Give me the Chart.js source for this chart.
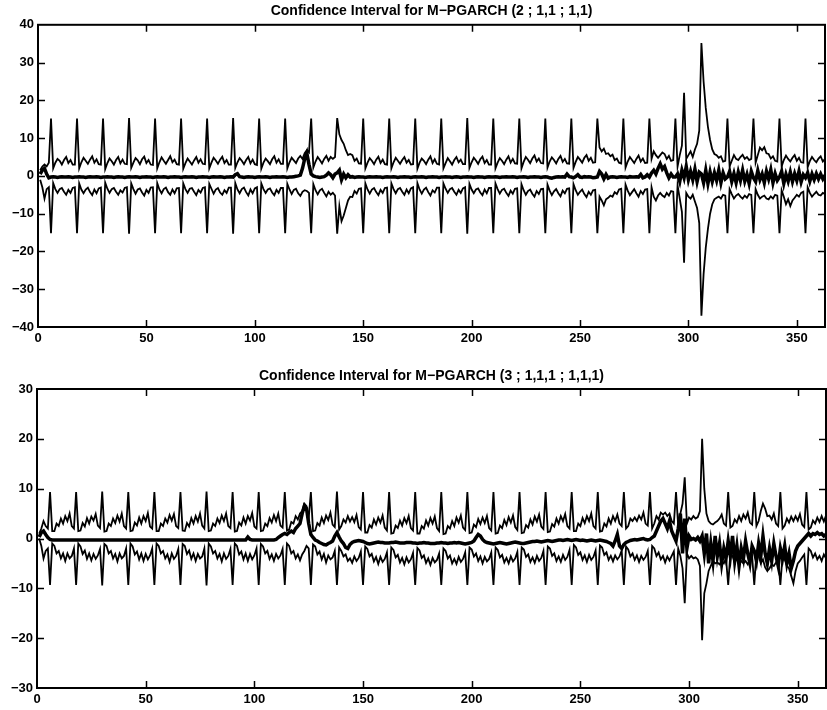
<!DOCTYPE html>
<html>
<head>
<meta charset="utf-8">
<script src="https://cdn.jsdelivr.net/npm/chart.js@4.4.1/dist/chart.umd.min.js"></script>
<style>
  html, body { margin: 0; padding: 0; background: #fff; }
  #wrap { position: relative; width: 827px; height: 710px; }
  canvas { position: absolute; left: 0; }
  #top { top: 0; }
  #bottom { top: 350px; }
</style>
</head>
<body>
<div id="wrap">
  <canvas id="top" width="827" height="350"></canvas>
  <canvas id="bottom" width="827" height="360"></canvas>
</div>
<script>
// one row = 12 observations, the periodic spike sits at the 6th of each row

// --- M-PGARCH (2 ; 1,1 ; 1,1) ---
const upper1 = [
  1.5, 2.5, 3, 2.5, 3.5, 15.2, 2, 3.5, 4.5, 4, 3, 4.2,
  5, 3.4, 4.2, 3, 3, 15.2, 2, 3.6, 4.8, 4, 3.2, 4.3,
  5.2, 3.5, 4.4, 3.1, 3, 15.2, 1.8, 3.4, 4.6, 3.9, 3, 4.2,
  5, 3.3, 4.3, 3.2, 3.1, 15.3, 2.1, 3.5, 4.7, 4.1, 3.1, 4.4,
  5.1, 3.4, 4.2, 3, 2.9, 15.2, 2, 3.6, 4.9, 4, 3.2, 4.2,
  5.2, 3.6, 4.3, 3.1, 3, 15.2, 1.9, 3.4, 4.6, 3.8, 3, 4.1,
  5, 3.5, 4.4, 3.2, 3.1, 15.2, 2, 3.5, 4.8, 4.1, 3.2, 4.3,
  5.1, 3.4, 4.2, 3, 3, 15.3, 2.1, 3.6, 4.7, 4, 3.1, 4.2,
  5, 3.3, 4.3, 3.1, 2.9, 15.2, 1.9, 3.5, 4.6, 3.9, 3.1, 4.4,
  5.2, 3.5, 4.4, 3.2, 3.2, 15.2, 2, 3.6, 4.8, 4.1, 3.4, 4.6,
  5.3, 4.5, 6, 6.8, 6.2, 15.2, 2.2, 3.8, 5, 4.2, 3.3, 4.5,
  5.3, 4, 5, 4.5, 5, 15.3, 11, 9.5, 8.5, 6.8, 5.5, 5.8,
  5.5, 4, 4.6, 3.3, 3.2, 15.2, 2, 3.5, 4.7, 4, 3.1, 4.3,
  5.1, 3.4, 4.3, 3.1, 3, 15.2, 2, 3.6, 4.8, 4, 3.2, 4.2,
  5, 3.5, 4.2, 3, 3.1, 15.2, 1.9, 3.5, 4.6, 4, 3.1, 4.3,
  5.2, 3.4, 4.4, 3.2, 3, 15.2, 2, 3.4, 4.7, 3.9, 3, 4.2,
  5, 3.6, 4.3, 3.1, 3.1, 15.3, 2.1, 3.6, 4.8, 4.1, 3.2, 4.4,
  5.1, 3.4, 4.2, 3, 3, 15.2, 2, 3.5, 4.7, 4, 3.1, 4.3,
  5.2, 3.5, 4.5, 3.3, 3.2, 15.2, 2, 3.7, 5, 4.3, 3.4, 4.6,
  5.4, 3.8, 4.6, 3.4, 3.3, 15.2, 2.2, 3.8, 4.9, 4.2, 3.3, 4.5,
  5.3, 3.7, 4.5, 3.3, 3.2, 15.2, 2.1, 3.7, 5, 4.3, 3.5, 4.8,
  5.5, 4, 4.8, 3.5, 3.6, 15.2, 7.5, 6.5, 7.2, 5.8, 6, 5.2,
  5.6, 4.2, 4.6, 3.5, 3.3, 15.2, 2.2, 3.8, 5, 4.2, 3.4, 4.5,
  5.4, 3.8, 4.6, 3.4, 3.5, 15.2, 4.5, 6.5, 5.5, 4.8, 5.5, 6.2,
  5.8, 4.5, 5.3, 4, 4.2, 15.2, 2.5, 5.5, 8, 22, 4.5, 5.5,
  6.5, 5, 7, 8.5, 12, 35.2, 25, 18, 13, 9.5, 7, 5.8,
  5.5, 4.8, 5.2, 3.8, 4, 15.2, 2.5, 4, 5.5, 4.5, 4.2, 5,
  5.6, 4.5, 5, 4.2, 4.5, 15.2, 3.5, 5.5, 7.5, 6.8, 7.6, 6,
  5.8, 4.6, 5.2, 4, 3.8, 15.2, 2.5, 4.2, 5.4, 4.5, 3.8, 4.8,
  5.5, 4, 4.8, 3.6, 3.5, 15.2, 2.3, 3.9, 5, 4.2, 3.6, 4.6,
  5.2, 3.8, 4.5
];
const lower1 = [
  -1, -3, -6, -3.5, -3, -15.2, -1.9, -3.5, -4.5, -3.5, -3.2, -4.2,
  -5, -3.7, -4.5, -3.2, -3, -15.2, -2, -3.6, -4.6, -3.6, -3.1, -4.3,
  -5.1, -3.6, -4.6, -3.3, -3.1, -15.2, -1.8, -3.4, -4.5, -3.5, -3.2, -4.2,
  -5, -3.8, -4.4, -3.2, -3, -15.3, -2, -3.5, -4.7, -3.6, -3.3, -4.4,
  -5.2, -3.7, -4.5, -3.1, -3, -15.2, -1.9, -3.6, -4.6, -3.5, -3.1, -4.3,
  -5, -3.6, -4.6, -3.3, -3.2, -15.2, -2, -3.5, -4.5, -3.4, -3.2, -4.2,
  -5.1, -3.7, -4.4, -3.2, -3, -15.2, -2.1, -3.4, -4.7, -3.6, -3.2, -4.4,
  -5, -3.8, -4.5, -3.1, -3.1, -15.3, -1.9, -3.6, -4.6, -3.5, -3.1, -4.3,
  -5.2, -3.6, -4.6, -3.3, -3, -15.2, -2, -3.5, -4.5, -3.6, -3.3, -4.4,
  -5.1, -3.7, -4.5, -3.2, -3.2, -15.2, -2.1, -3.6, -4.8, -3.7, -3.4, -4.6,
  -5.3, -4.2, -3.8, -4, -4.5, -15.2, -2.2, -3.8, -4.9, -3.8, -3.4, -4.5,
  -5.4, -4.2, -5, -4.5, -5.2, -15.3, -8, -12, -10.5, -8.5, -6.5, -5.5,
  -5.6, -4, -4.7, -3.4, -3.3, -15.2, -2, -3.6, -4.7, -3.6, -3.2, -4.3,
  -5.1, -3.7, -4.5, -3.2, -3.1, -15.2, -2, -3.5, -4.6, -3.5, -3.2, -4.2,
  -5, -3.6, -4.6, -3.3, -3, -15.2, -1.9, -3.6, -4.7, -3.6, -3.1, -4.3,
  -5.2, -3.8, -4.4, -3.1, -3.1, -15.2, -2, -3.4, -4.5, -3.5, -3.2, -4.2,
  -5, -3.7, -4.5, -3.3, -3, -15.3, -2.1, -3.6, -4.6, -3.6, -3.3, -4.4,
  -5.1, -3.6, -4.6, -3.2, -3.2, -15.2, -2, -3.5, -4.7, -3.7, -3.4, -4.5,
  -5.3, -3.9, -4.7, -3.4, -3.3, -15.2, -2.2, -3.8, -5, -4, -3.6, -4.7,
  -5.5, -4, -4.8, -3.5, -3.4, -15.2, -2.3, -3.9, -5.1, -4.1, -3.5, -4.6,
  -5.4, -3.9, -4.6, -3.4, -3.3, -15.2, -2.2, -3.8, -5, -4.2, -3.6, -4.8,
  -5.6, -4.2, -5, -3.8, -3.7, -15.2, -5.5, -6.5, -7.8, -6.2, -5.8, -5.2,
  -5.5, -4.3, -4.8, -3.6, -3.4, -15.2, -2.3, -3.9, -5.1, -4.3, -3.5, -4.6,
  -5.5, -4, -4.8, -3.6, -3.5, -15.2, -3, -5.5, -6.5, -5.2, -4.5, -5.2,
  -5.6, -4.5, -5.2, -4, -4.2, -15.2, -2.5, -6, -9.5, -23, -4.5, -5.5,
  -6, -5, -6.8, -8.5, -12.5, -37, -26, -19, -14, -10, -7.5, -6.2,
  -5.8, -5.5, -6, -5, -5.2, -15.2, -3.5, -4.8, -6, -5.2, -4.8, -5.5,
  -6, -5.2, -5.8, -4.8, -5, -15.2, -3.5, -5, -6, -5.5, -5.2, -6,
  -6.2, -5.4, -6, -5, -5.2, -15.2, -3.8, -5.5, -7.5, -6.2, -8, -6.5,
  -5.8, -5, -5.5, -4.5, -4.2, -15.2, -3, -4.5, -5.5, -4.8, -4.2, -5,
  -5.2, -4.5, -4.8
];
const mean1 = [
  0.5, 1.5, 2, 0.5, -0.5, -0.3, -0.2, -0.3, -0.4, -0.3, -0.2, -0.3,
  -0.3, -0.2, -0.3, -0.4, -0.3, -0.3, -0.2, -0.3, -0.3, -0.4, -0.3, -0.2,
  -0.3, -0.3, -0.2, -0.3, -0.4, -0.3, -0.3, -0.2, -0.3, -0.3, -0.4, -0.3,
  -0.2, -0.3, -0.3, -0.4, -0.3, -0.2, -0.3, -0.3, -0.2, -0.3, -0.4, -0.3,
  -0.3, -0.2, -0.3, -0.3, -0.4, -0.3, -0.2, -0.3, -0.3, -0.2, -0.3, -0.4,
  -0.3, -0.3, -0.2, -0.3, -0.3, -0.4, -0.3, -0.2, -0.3, -0.3, -0.2, -0.3,
  -0.4, -0.3, -0.3, -0.2, -0.3, -0.3, -0.4, -0.3, -0.2, -0.3, -0.3, -0.2,
  -0.3, -0.4, -0.3, -0.3, -0.2, -0.3, 0.3, 0.6, -0.2, -0.3, -0.4, -0.3,
  -0.2, -0.3, -0.3, -0.4, -0.3, -0.2, -0.3, -0.3, -0.2, -0.3, -0.4, -0.3,
  -0.3, -0.2, -0.3, -0.3, -0.2, -0.3, -0.4, -0.3, -0.3, -0.2, -0.1, 0,
  0.2, 2, 4.5, 6, 3, 0.5, 0, -0.2, -0.3, -0.4, -0.3, -0.2,
  0.2, 0.8, 0.3, -0.5, 0.5, 0.8, 1.5, -1, 0.5, -0.5, 0.3, -0.3,
  -0.2, -0.4, -0.3, -0.2, -0.3, -0.3, -0.4, -0.3, -0.2, -0.3, -0.3, -0.2,
  -0.3, -0.3, -0.4, -0.3, -0.2, -0.3, -0.3, -0.2, -0.3, -0.4, -0.3, -0.3,
  -0.2, -0.3, -0.3, -0.4, -0.3, -0.2, -0.3, -0.3, -0.2, -0.3, -0.4, -0.3,
  -0.3, -0.2, -0.3, -0.3, -0.4, -0.3, -0.3, -0.2, -0.3, -0.3, -0.4, -0.3,
  -0.2, -0.3, -0.4, -0.3, -0.3, -0.2, -0.3, -0.3, -0.4, -0.3, -0.2, -0.3,
  -0.3, -0.4, -0.3, -0.2, -0.3, -0.3, -0.2, -0.3, -0.4, -0.3, -0.3, -0.2,
  -0.3, -0.3, -0.2, -0.3, -0.4, -0.3, -0.3, -0.2, -0.3, -0.4, -0.3, -0.3,
  -0.2, -0.3, -0.3, -0.4, -0.3, -0.2, -0.3, -0.5, -0.6, -0.4, -0.3, -0.2,
  -0.3, -0.2, -0.3, 0.5, -0.2, -0.3, -0.5, -0.2, 0.3, -0.3, -0.4, -0.2,
  -0.3, -0.2, -0.3, -0.5, -0.4, -0.3, 1.2, 0.5, -0.8, 0.4, -0.6, -0.3,
  -0.2, -0.3, -0.4, -0.3, -0.2, -0.3, -0.3, -0.4, -0.2, -0.3, -0.3, -0.2,
  -0.3, 0.4, -0.5, -0.3, 0.3, -0.3, 0.8, 1.5, 0.5, 2, 3.2, 1.8,
  2.5, 0.8, -0.5, 0.5, -0.3, -0.3, 0.5, -1.5, 1.5, -0.5, 2.5, -1,
  1.2, -1, 1.8, -1.5, 1, 0.5, -1.8, 1.5, -2, 1, -1.5, 0.8,
  -1.2, 1.5, -1.8, 0.8, -0.8, -0.3, 1.2, -1.5, 0.6, -1.8, 1, -1.2,
  1.5, -1.4, 0.4, -2, 1.2, -0.5, -1.5, 1.4, -1, 0.5, -1.8, 1.2,
  -0.8, 1.6, -1.8, 0.6, -1.2, -0.3, 1.2, -2, 0.4, -1.4, 1, -1.5,
  0.6, -1.2, 1.2, -1.6, 0.3, -0.5, 0.8, -1.4, 0.5, -1, 0.6, -0.8,
  0.5, -0.8, 0.2
];

// --- M-PGARCH (3 ; 1,1,1 ; 1,1,1) ---
const upper2 = [
  1, 2, 3.5, 2.5, 2, 9.3, 1.5, 1.5, 3, 2.5, 4, 3,
  4.5, 3.5, 5, 2.5, 2, 9.3, 1.5, 1.6, 3.1, 2.4, 4.1, 3,
  4.4, 3.6, 4.9, 2.6, 2.1, 9.4, 1.4, 1.5, 3, 2.5, 4, 3.1,
  4.6, 3.4, 5, 2.5, 2, 9.3, 1.5, 1.6, 3.2, 2.6, 4.2, 3,
  4.5, 3.5, 5.1, 2.4, 2, 9.3, 1.5, 1.5, 3, 2.5, 4, 3.2,
  4.7, 3.6, 4.9, 2.5, 2.1, 9.3, 1.6, 1.5, 3.1, 2.4, 4.1, 3,
  4.5, 3.4, 5, 2.6, 2, 9.4, 1.5, 1.6, 3, 2.5, 4, 3.1,
  4.6, 3.5, 5, 2.5, 2.1, 9.3, 1.4, 1.5, 3.2, 2.6, 4.2, 3,
  4.5, 3.6, 5.1, 2.4, 2, 9.3, 1.5, 1.6, 3, 2.5, 4.1, 3.2,
  4.7, 3.5, 5, 2.6, 2.2, 9.3, 1.6, 1.8, 3.3, 3, 4.5, 3.8,
  5, 5.5, 7, 6.5, 4, 9.3, 1.5, 1.6, 3.1, 2.6, 4.2, 3.1,
  4.6, 3.7, 5.2, 2.8, 2.3, 9.4, 1.8, 2.5, 3.8, 3.2, 4.5, 3.4,
  4.3, 3.3, 4.7, 2.3, 1.8, 9.3, 1.2, 1.2, 2.7, 2.2, 3.8, 2.8,
  4.2, 3.2, 4.6, 2.2, 1.6, 9.3, 1, 1.1, 2.6, 2.1, 3.6, 2.6,
  4.1, 3.1, 4.5, 2.1, 1.6, 9.3, 1, 1, 2.5, 2, 3.6, 2.6,
  4.1, 3, 4.4, 2.1, 1.5, 9.3, 0.9, 1, 2.5, 2, 3.5, 2.5,
  4.2, 3.2, 4.6, 2.2, 1.7, 9.3, 1.1, 1.2, 2.8, 2.3, 3.9, 2.9,
  4.2, 3.1, 4.5, 2.1, 1.6, 9.3, 1, 1.1, 2.6, 2.1, 3.7, 2.7,
  4.3, 3.2, 4.6, 2.3, 1.7, 9.3, 1.1, 1.2, 2.7, 2.2, 3.8, 2.8,
  4.4, 3.4, 4.8, 2.4, 1.9, 9.3, 1.3, 1.4, 2.9, 2.4, 4, 3,
  4.5, 3.5, 4.9, 2.5, 2, 9.3, 1.5, 1.5, 3, 2.5, 4.1, 3.1,
  4.5, 3.5, 5, 2.5, 2, 9.3, 1.4, 1.5, 3, 2.4, 4, 3,
  4.5, 3.5, 4.8, 3, 2.5, 9.3, 2, 2.5, 4, 3.5, 4.2, 3.5,
  4.6, 3.8, 5.2, 3, 2.6, 9.3, 2, 3, 4.5, 3.8, 5.2, 4.8,
  5.2, 4.5, 5, 3.5, 3, 9.3, 2.5, 5, 7, 12.3, 3, 4.2,
  3.8, 4.5, 4, 4.3, 5.5, 20, 10, 5, 3.5, 3, 2.8, 3.2,
  3.5, 4, 4.8, 3, 2.6, 9.3, 2.2, 2.5, 3.8, 3.2, 4.5, 3.5,
  4.8, 4, 5.2, 3.2, 2.8, 9.3, 2.5, 3.5, 5.5, 7, 6, 4.5,
  4.6, 3.8, 5, 3, 2.5, 9.3, 2, 2.6, 4, 3.2, 4.4, 3.5,
  4.5, 3.6, 4.9, 2.8, 2.3, 9.3, 1.8, 2.2, 3.6, 3, 4.2, 3.3,
  4.5, 3.4, 4.6
];
const lower2 = [
  0, -1.5, -4, -2.5, -2, -9.3, -1, -1.5, -3, -2.5, -4, -3,
  -4.5, -3, -4, -3.5, -2, -9.3, -1, -1.6, -3.1, -2.4, -4.1, -3,
  -4.4, -3.1, -4.1, -3.4, -2.1, -9.4, -1.1, -1.5, -3, -2.5, -4, -3.1,
  -4.6, -3, -4, -3.5, -2, -9.3, -1, -1.6, -3.2, -2.6, -4.2, -3,
  -4.5, -3.1, -4.2, -3.4, -2, -9.3, -1, -1.5, -3, -2.5, -4, -3.2,
  -4.7, -3, -4.1, -3.5, -2.1, -9.3, -1.1, -1.5, -3.1, -2.4, -4.1, -3,
  -4.5, -3.1, -4, -3.6, -2, -9.4, -1, -1.6, -3, -2.5, -4, -3.1,
  -4.6, -3, -4.1, -3.5, -2.1, -9.3, -1, -1.5, -3.2, -2.6, -4.2, -3,
  -4.5, -3.1, -4.2, -3.4, -2, -9.3, -1.1, -1.6, -3, -2.5, -4.1, -3.2,
  -4.5, -3.1, -4, -3.4, -2.1, -9.3, -1, -1.5, -3, -2.5, -4, -3.2,
  -4.4, -3.2, -2.5, -1.5, -2, -9.3, -1.2, -1.6, -3.2, -2.6, -4.2, -3.1,
  -4.8, -3.4, -4.2, -3.8, -2.5, -9.3, -1.8, -2.5, -3.6, -3.2, -4.5, -4,
  -4.9, -3.6, -4.5, -3.9, -2.6, -9.3, -1.6, -2.1, -3.6, -3.1, -4.6, -3.7,
  -5.1, -3.7, -4.7, -4.1, -2.8, -9.3, -1.8, -2.3, -3.8, -3.3, -4.8, -3.9,
  -5.2, -3.8, -4.8, -4.2, -2.9, -9.3, -1.9, -2.4, -3.9, -3.4, -4.9, -4,
  -5.3, -3.9, -4.8, -4.3, -3, -9.3, -2, -2.5, -4, -3.4, -5, -4.1,
  -5.1, -3.7, -4.7, -4.1, -2.8, -9.3, -1.8, -2.2, -3.6, -3, -4.5, -3.6,
  -5, -3.7, -4.6, -4.1, -2.8, -9.3, -1.8, -2.3, -3.8, -3.3, -4.8, -3.9,
  -5, -3.6, -4.6, -4, -2.7, -9.3, -1.8, -2.2, -3.7, -3.2, -4.7, -3.8,
  -4.9, -3.5, -4.5, -3.9, -2.5, -9.3, -1.6, -2, -3.5, -3, -4.5, -3.6,
  -4.7, -3.3, -4.3, -3.7, -2.3, -9.3, -1.3, -1.8, -3.3, -2.8, -4.3, -3.4,
  -4.7, -3.3, -4.3, -3.7, -2.4, -9.3, -1.4, -1.8, -3.3, -2.8, -4.3, -3.5,
  -4.6, -3.4, -4.2, -3.6, -2.4, -9.3, -1.6, -2.2, -3.6, -3, -4.3, -3.4,
  -4.7, -3.5, -4.3, -3.7, -2.5, -9.3, -1.5, -2, -3.5, -2.8, -4.2, -3.5,
  -4.8, -3.6, -4.4, -3.5, -2.6, -9.3, -2, -3.5, -6, -13, -3, -4,
  -3.5, -4, -3.8, -4.2, -5.5, -20.4, -11, -9, -6.5, -5.5, -4.5, -5,
  -4.8, -5.2, -4.5, -5, -4, -9.3, -3, -3.5, -4.8, -4, -5.2, -4.5,
  -5, -4.5, -5.2, -4.2, -3.5, -9.3, -2.8, -3.5, -5, -4.2, -5.8, -6.5,
  -6, -5.2, -5.5, -4.8, -4, -9.3, -3.5, -4.2, -5.5, -6, -7.5, -9,
  -6.5, -5, -4.5, -3.8, -3.2, -9.3, -2, -2.5, -3.8, -3, -4.2, -3.5,
  -4.5, -3.2, -4
];
const mean2 = [
  0.3, 1.2, 1.5, 0.8, 0.2, -0.2, -0.3, -0.3, -0.3, -0.3, -0.3, -0.3,
  -0.3, -0.3, -0.3, -0.3, -0.3, -0.3, -0.3, -0.3, -0.3, -0.3, -0.3, -0.3,
  -0.3, -0.3, -0.3, -0.3, -0.3, -0.3, -0.3, -0.3, -0.3, -0.3, -0.3, -0.3,
  -0.3, -0.3, -0.3, -0.3, -0.3, -0.3, -0.3, -0.3, -0.3, -0.3, -0.3, -0.3,
  -0.3, -0.3, -0.3, -0.3, -0.3, -0.3, -0.3, -0.3, -0.3, -0.3, -0.3, -0.3,
  -0.3, -0.3, -0.3, -0.3, -0.3, -0.3, -0.3, -0.3, -0.3, -0.3, -0.3, -0.3,
  -0.3, -0.3, -0.3, -0.3, -0.3, -0.3, -0.3, -0.3, -0.3, -0.3, -0.3, -0.3,
  -0.3, -0.3, -0.3, -0.3, -0.3, -0.3, -0.3, -0.3, -0.3, -0.3, -0.3, -0.3,
  0.3, -0.2, -0.3, -0.3, -0.3, -0.3, -0.3, -0.3, -0.3, -0.3, -0.3, -0.3,
  -0.3, -0.2, 0.2, 0.5, 0.8, 1, 0.8, 1.2, 1.5, 1.2, 2, 2.5,
  3, 5, 6.5, 6, 3, 0.8, 0.2, -0.3, -0.5, -0.8, -1, -1.2,
  -1.3, -1, -0.8, -0.5, 0.5, 1.2, 0.3, -0.5, -1, -1.8, -2, -1.2,
  -0.8, -0.6, -0.5, -0.4, -0.5, -0.6, -0.8, -1, -1.1, -1, -0.9, -0.8,
  -0.7, -0.8, -0.8, -0.9, -0.9, -0.9, -0.8, -0.8, -0.7, -0.8, -0.9, -0.9,
  -0.9, -0.8, -0.8, -0.8, -0.9, -0.9, -1, -0.9, -0.9, -0.8, -0.9, -0.9,
  -1, -1, -1, -0.9, -0.9, -0.8, -0.9, -0.9, -1, -0.9, -0.9, -0.8,
  -0.9, -0.8, -0.9, -1, -1.1, -1, -0.9, -0.8, -0.5, 0.2, 0.8, 0.5,
  -0.2, -0.6, -0.8, -0.9, -1, -1.1, -1, -0.9, -0.8, -0.9, -1, -1.1,
  -1, -0.9, -0.8, -0.7, -0.8, -0.9, -1, -1, -0.9, -0.8, -0.7, -0.6,
  -0.6, -0.5, -0.6, -0.7, -0.6, -0.5, -0.4, -0.5, -0.6, -0.5, -0.4, -0.3,
  -0.3, -0.4, -0.3, -0.2, -0.3, -0.4, -0.3, -0.2, -0.3, -0.4, -0.3, -0.4,
  -0.5, -0.4, -0.3, -0.4, -0.5, -0.4, -0.3, -0.4, -0.5, -0.6, -0.8, -1,
  -1.5, -0.5, 0.8, -1.5, -2, -1.2, -0.8, -0.6, -0.4, -0.3, -0.2, -0.3,
  -0.2, -0.1, 0, -0.2, -0.3, -0.2, 0.2, 0.5, 1.5, 2.5, 3.5, 4,
  3, 2, 3.5, 1.5, 0.5, -0.5, 2, 5, -3, 4, -2, 0.5,
  -0.2, 0, -0.3, 0.2, -0.5, 0.5, -3, 1, -5, -1, -4.5, 0.5,
  -3.5, -1, -5, -2, -4, -0.5, -3.5, 0.5, -4.5, -1.5, -5.5, -2,
  -4, -0.5, -3, -5, -1.5, -2.5, -4.5, -1, -3.5, 0.5, -3, -5,
  -2, -4.5, -1, -3.5, -5.5, -2, -4, -1.5, -5, -3, -6, -4.5,
  -2.5, -1.5, -1, -0.5, 0, 0.5, 1, 0.5, 1, 0.8, 1.2, 0.8,
  1, 0.5, 0.8
];

const days = mean1.map((_, i) => i + 1);
const xMax = 363;

Chart.defaults.font.family = "'Liberation Sans', Arial, sans-serif";
Chart.defaults.font.size = 13;
Chart.defaults.font.weight = 'bold';
Chart.defaults.color = '#000';

// matlab style box with inward ticks on all four sides
const matlabBox = {
    id: 'matlabBox',
    afterDraw(chart) {
        const { ctx, chartArea: a, scales: { x, y } } = chart;
        const len = 7;
        ctx.save();
        ctx.strokeStyle = '#000';
        ctx.lineWidth = 1.5;
        ctx.beginPath();
        x.ticks.forEach(t => {
            const px = Math.round(x.getPixelForValue(t.value)) + 0.5;
            if (px <= a.left + 1 || px >= a.right - 1) return;
            ctx.moveTo(px, a.bottom); ctx.lineTo(px, a.bottom - len);
            ctx.moveTo(px, a.top); ctx.lineTo(px, a.top + len);
        });
        y.ticks.forEach(t => {
            const py = Math.round(y.getPixelForValue(t.value)) + 0.5;
            if (py <= a.top + 1 || py >= a.bottom - 1) return;
            ctx.moveTo(a.left, py); ctx.lineTo(a.left + len, py);
            ctx.moveTo(a.right, py); ctx.lineTo(a.right - len, py);
        });
        ctx.stroke();
        ctx.lineWidth = 2;
        ctx.strokeRect(a.left, a.top, a.right - a.left, a.bottom - a.top);
        ctx.restore();
    }
};

function makeChart(canvasId, title, upper, lower, mean, yMax, box) {
    const line = (data, width) => ({
        data, borderColor: '#000', borderWidth: width,
        pointRadius: 0, tension: 0, fill: false
    });
    return new Chart(document.getElementById(canvasId), {
        type: 'line',
        data: {
            labels: days,
            datasets: [line(mean, 3.5), line(upper, 1.8), line(lower, 1.8)]
        },
        options: {
            responsive: false,
            animation: false,
            devicePixelRatio: 1,
            layout: { padding: { left: 0, right: box.right, top: 0, bottom: 0 } },
            plugins: {
                legend: { display: false },
                tooltip: { enabled: false },
                title: {
                    display: true,
                    text: title,
                    fullSize: false,
                    color: '#000',
                    font: { size: 14, weight: 'bold' },
                    padding: { top: box.titleTop, bottom: box.titleBottom }
                }
            },
            scales: {
                x: {
                    type: 'linear',
                    min: 0,
                    max: xMax,
                    grid: { display: false, drawTicks: false },
                    border: { display: false },
                    ticks: { stepSize: 50, includeBounds: false, padding: 4, maxRotation: 0, autoSkip: false },
                    afterFit: s => { s.height = box.xHeight; }
                },
                y: {
                    min: -yMax,
                    max: yMax,
                    grid: { display: false, drawTicks: false },
                    border: { display: false },
                    ticks: {
                        stepSize: 10,
                        padding: 4,
                        callback: v => String(v).replace('-', '\u2212')
                    },
                    afterFit: s => { s.width = box.yWidth; }
                }
            }
        },
        plugins: [matlabBox]
    });
}

makeChart('top', 'Confidence Interval for M\u2212PGARCH (2 ; 1,1 ; 1,1)',
    upper1, lower1, mean1, 40,
    { right: 2, titleTop: 3, titleBottom: 5, xHeight: 23, yWidth: 38 });

makeChart('bottom', 'Confidence Interval for M\u2212PGARCH (3 ; 1,1,1 ; 1,1,1)',
    upper2, lower2, mean2, 30,
    { right: 1, titleTop: 17.6, titleBottom: 4.6, xHeight: 22, yWidth: 37 });
</script>
</body>
</html>
